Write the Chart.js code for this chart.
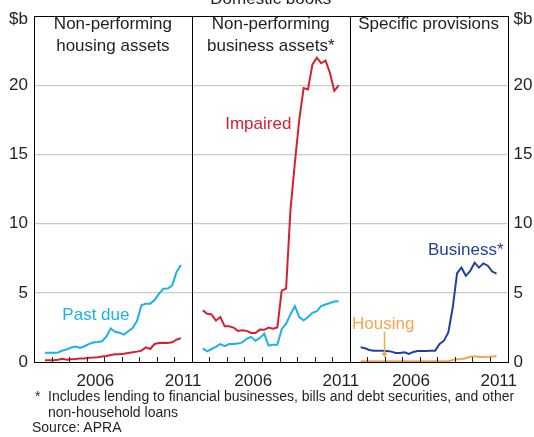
<!DOCTYPE html>
<html>
<head>
<meta charset="utf-8">
<script src="https://cdn.jsdelivr.net/npm/chart.js@4.4.1/dist/chart.umd.min.js"></script>
<style>
  body { margin: 0; background: #fff; }
  #wrap { position: relative; width: 534px; height: 437px; overflow: hidden; font-family: "Liberation Sans", Arial, sans-serif; color: #231f20; }
  #chart { position: absolute; left: 0; top: 0; }
  .note { position: absolute; font-size: 14px; line-height: 15.5px; white-space: nowrap; }
</style>
</head>
<body>
<div id="wrap">
  <canvas id="chart" width="534" height="392"></canvas>
  <div class="note" style="left:35px; top:389px">*</div>
  <div class="note" style="left:48px; top:389px">Includes lending to financial businesses, bills and debt securities, and other</div>
  <div class="note" style="left:48px; top:404.5px">non-household loans</div>
  <div class="note" style="left:32px; top:420px">Source: APRA</div>
</div>
<script>
// quarterly observations (decimal years)
const quarters = [2003.625, 2003.875, 2004.125, 2004.375, 2004.625, 2004.875, 2005.125, 2005.375,
                  2005.625, 2005.875, 2006.125, 2006.375, 2006.625, 2006.875, 2007.125, 2007.375,
                  2007.625, 2007.875, 2008.125, 2008.375, 2008.625, 2008.875, 2009.125, 2009.375,
                  2009.625, 2009.875, 2010.125, 2010.375, 2010.625, 2010.875, 2011.125, 2011.375];

// panel 1: non-performing housing assets ($b)
const housingPastDue = [0.67, 0.67, 0.67, 0.69, 0.83, 0.91, 1.05, 1.12, 1.02, 1.14, 1.29, 1.41, 1.45, 1.5, 1.83, 2.43,
                        2.19, 2.12, 1.98, 2.22, 2.45, 2.98, 4.1, 4.22, 4.22, 4.48, 4.93, 5.29, 5.31, 5.52, 6.5, 7.02];
const housingImpaired = [0.13, 0.13, 0.13, 0.16, 0.23, 0.16, 0.2, 0.22, 0.25, 0.25, 0.3, 0.32, 0.35, 0.39, 0.44, 0.51,
                         0.56, 0.56, 0.6, 0.65, 0.7, 0.75, 0.82, 1.06, 0.94, 1.3, 1.37, 1.39, 1.37, 1.42, 1.61, 1.73];

// panel 2: non-performing business assets ($b)
const businessImpaired = [3.73, 3.49, 3.44, 3.0, 3.25, 2.58, 2.58, 2.49, 2.25, 2.3, 2.25, 2.1, 2.1, 2.34, 2.33, 2.49,
                          2.4, 2.49, 5.16, 5.3, 11.0, 14.4, 17.5, 19.8, 19.7, 21.5, 22.0, 21.6, 21.8, 20.9, 19.6, 20.0];
const businessPastDue = [0.99, 0.77, 0.94, 1.1, 1.3, 1.15, 1.3, 1.3, 1.33, 1.42, 1.68, 1.82, 1.54, 1.73, 2.06, 1.18,
                         1.25, 1.25, 2.37, 2.77, 3.44, 4.04, 3.25, 3.01, 3.25, 3.56, 3.68, 4.04, 4.16, 4.27, 4.37, 4.39];

// panel 3: specific provisions ($b)
const provisionsBusiness = [1.06, 0.99, 0.87, 0.82, 0.82, 0.82, 0.8, 0.75, 0.65, 0.65, 0.7, 0.58, 0.73, 0.8, 0.8, 0.8,
                            0.82, 0.82, 1.3, 1.54, 2.13, 3.92, 6.42, 6.82, 6.23, 6.58, 7.18, 6.82, 7.13, 6.96, 6.54, 6.39];
const provisionsHousing = [0.05, 0.05, 0.05, 0.05, 0.05, 0.05, 0.05, 0.05, 0.05, 0.05, 0.05, 0.05, 0.05, 0.05, 0.05, 0.05,
                           0.05, 0.05, 0.05, 0.05, 0.05, 0.15, 0.2, 0.22, 0.27, 0.38, 0.42, 0.36, 0.36, 0.38, 0.4, 0.44];

const panelTitles = [['Non-performing', 'housing assets'], ['Non-performing', 'business assets*'], ['Specific provisions']];
const yTicks = [0, 5, 10, 15, 20];
const yearLabels = [2006, 2011];

const FIRST_YEAR = 2003;
const SPAN = 9; // years per panel
const toX = (panel, year) => panel * SPAN + (year - FIRST_YEAR);
const points = (panel, values) => values.map((v, i) => ({ x: toX(panel, quarters[i]), y: v }));

const CYAN = '#1cb1e8', RED = '#d6202f', BLUE = '#24409a', ORANGE = '#f8a54c';
const TEXT = '#231f20';
const FONT = '"Liberation Sans", Arial, sans-serif';

// series labels placed in data coordinates
const seriesLabels = [
  { text: 'Past due', panel: 0, year: 2006.53, value: 3.41, color: CYAN },
  { text: 'Impaired', panel: 1, year: 2006.79, value: 17.18, color: RED },
  { text: 'Business*', panel: 2, year: 2009.62, value: 8.1, color: BLUE },
  { text: 'Housing', panel: 2, year: 2004.91, value: 2.76, color: ORANGE }
];

const line = (data, color) => ({
  data: data, borderColor: color, borderWidth: 2, pointRadius: 0, tension: 0, fill: false
});

const panelsPlugin = {
  id: 'panels',
  afterDatasetsDraw(chart) {
    const { ctx, chartArea: a, scales } = chart;
    const x = scales.x, y = scales.y;
    ctx.save();

    // year tick marks, inside the plot
    ctx.strokeStyle = '#222';
    ctx.lineWidth = 1;
    for (let v = 1; v < SPAN * 3; v++) {
      if (v % SPAN === 0) continue;
      const px = Math.round(x.getPixelForValue(v)) + 0.5;
      ctx.beginPath();
      ctx.moveTo(px, a.bottom);
      ctx.lineTo(px, a.bottom - 5);
      ctx.stroke();
    }

    // frame and panel dividers
    ctx.strokeStyle = '#000';
    ctx.strokeRect(Math.round(a.left) + 0.5, Math.round(a.top) + 0.5, Math.round(a.width), Math.round(a.height));
    [SPAN, SPAN * 2].forEach(v => {
      const px = Math.round(x.getPixelForValue(v)) + 0.5;
      ctx.beginPath();
      ctx.moveTo(px, a.top);
      ctx.lineTo(px, a.bottom);
      ctx.stroke();
    });

    // panel titles
    ctx.font = '17px ' + FONT;
    ctx.fillStyle = TEXT;
    ctx.textAlign = 'center';
    ctx.textBaseline = 'middle';
    panelTitles.forEach((lines, p) => {
      const cx = x.getPixelForValue(p * SPAN + SPAN / 2);
      lines.forEach((t, i) => ctx.fillText(t, cx, 24 + i * 22));
    });

    // chart title, cut by the top edge
    ctx.textBaseline = 'alphabetic';
    ctx.fillText('Domestic books', (a.left + a.right) / 2, 4);

    // units
    ctx.textBaseline = 'middle';
    ctx.textAlign = 'right';
    ctx.fillText('$b', a.left - 6, 19);
    ctx.textAlign = 'left';
    ctx.fillText('$b', a.right + 6, 19);

    // series labels
    ctx.textAlign = 'center';
    seriesLabels.forEach(l => {
      ctx.fillStyle = l.color;
      ctx.fillText(l.text, x.getPixelForValue(toX(l.panel, l.year)), y.getPixelForValue(l.value));
    });

    // arrow from the Housing label to its line
    const ax = Math.round(x.getPixelForValue(toX(2, 2004.94))) + 0.5;
    const y0 = y.getPixelForValue(2.19), y1 = y.getPixelForValue(0.31);
    ctx.strokeStyle = ORANGE;
    ctx.fillStyle = ORANGE;
    ctx.lineWidth = 1.5;
    ctx.beginPath();
    ctx.moveTo(ax, y0);
    ctx.lineTo(ax, y1 - 4);
    ctx.stroke();
    ctx.beginPath();
    ctx.moveTo(ax - 3, y1 - 5);
    ctx.lineTo(ax + 3, y1 - 5);
    ctx.lineTo(ax, y1);
    ctx.closePath();
    ctx.fill();

    ctx.restore();
  }
};

const ctx = document.getElementById('chart').getContext('2d');
const chart = new Chart(ctx, {
  type: 'line',
  data: {
    datasets: [
      line(points(0, housingPastDue), CYAN),
      line(points(0, housingImpaired), RED),
      line(points(1, businessPastDue), CYAN),
      line(points(1, businessImpaired), RED),
      line(points(2, provisionsHousing), ORANGE),
      line(points(2, provisionsBusiness), BLUE)
    ]
  },
  options: {
    responsive: false,
    animation: false,
    layout: { padding: { top: 12, left: 0, right: 0, bottom: 0 } },
    plugins: { legend: { display: false }, tooltip: { enabled: false }, title: { display: false } },
    scales: {
      x: {
        type: 'linear',
        min: 0,
        max: SPAN * 3,
        afterBuildTicks: axis => {
          axis.ticks = [0, 1, 2].flatMap(p => yearLabels.map(yr => ({ value: toX(p, yr + 0.5) })));
        },
        afterFit: axis => { axis.height = 30; },
        grid: { display: false, drawTicks: false },
        border: { display: false },
        ticks: {
          autoSkip: false,
          maxRotation: 0,
          padding: 9,
          color: TEXT,
          font: { size: 17, family: FONT },
          callback: v => String(FIRST_YEAR + Math.floor(v % SPAN))
        }
      },
      y: {
        position: 'left',
        min: 0,
        max: 25,
        afterBuildTicks: axis => { axis.ticks = yTicks.map(v => ({ value: v })); },
        afterFit: axis => { axis.width = 34; },
        grid: {
          drawTicks: false,
          color: c => (c.tick && c.tick.value === 0 ? 'rgba(0,0,0,0)' : '#c9c9c9'),
          lineWidth: 1.2
        },
        border: { display: false },
        ticks: { padding: 6, color: TEXT, font: { size: 17, family: FONT } }
      },
      y2: {
        position: 'right',
        min: 0,
        max: 25,
        afterBuildTicks: axis => { axis.ticks = yTicks.map(v => ({ value: v })); },
        afterFit: axis => { axis.width = 26.5; },
        grid: { display: false, drawTicks: false },
        border: { display: false },
        ticks: { padding: 6, color: TEXT, font: { size: 17, family: FONT } }
      }
    }
  },
  plugins: [panelsPlugin]
});
</script>
</body>
</html>
